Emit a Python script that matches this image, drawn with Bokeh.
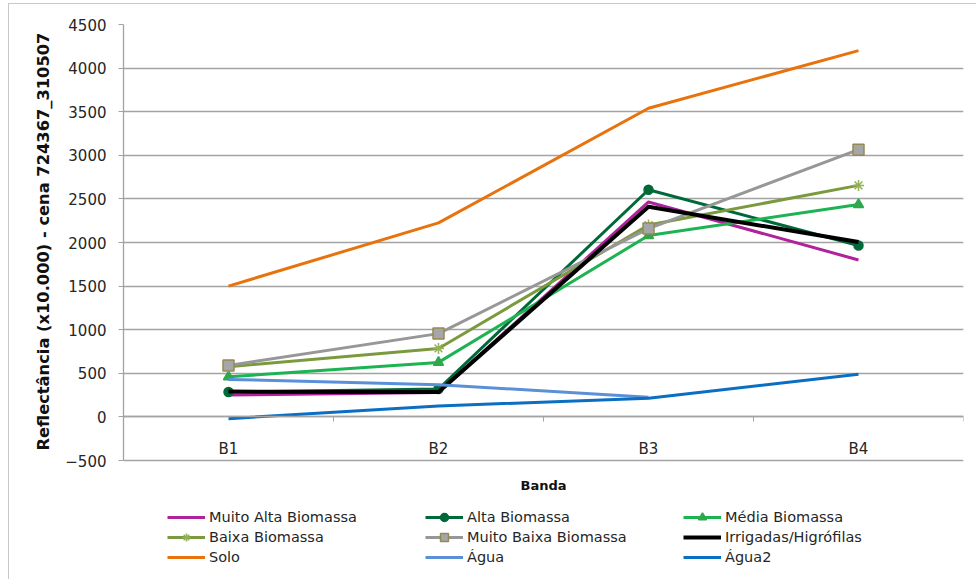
from bokeh.plotting import figure
from bokeh.models import (Range1d, LinearAxis, FixedTicker, Legend, LegendItem,
                          Label, Title)
from bokeh.embed import file_html
from bokeh.resources import INLINE

# Reflectance per band (x10.000)
bands = ["B1", "B2", "B3", "B4"]
muito_alta = [250, 280, 2465, 1800]
alta = [285, 320, 2605, 1965]
media = [460, 625, 2080, 2435]
baixa = [575, 785, 2200, 2655]
muito_baixa = [590, 955, 2160, 3065]
irrigadas = [290, 285, 2410, 2005]
solo = [1500, 2225, 3540, 4200]
agua = [430, 370, 225, float("nan")]
agua2 = [-20, 125, 215, 490]
y_ticks = [-500, 0, 500, 1000, 1500, 2000, 2500, 3000, 3500, 4000, 4500]

FONT = "DejaVu Sans"
GRID = "#a3a3a3"
TEXT = "#262626"
PX_PER_UNIT = 436 / 5000

xs = [i + 1 for i in range(len(bands))]

# the plot area runs down to the canvas bottom so the legend can sit inside it;
# the value axis and grid are bounded to -500..4500
y_lo = -500 - 120 / PX_PER_UNIT
p = figure(width=968, height=576, output_backend="svg", toolbar_location=None,
           x_range=Range1d(0.5, 4.5), y_range=Range1d(y_lo, 4500),
           x_axis_location=None, y_axis_location=None,
           min_border_left=114, min_border_right=14,
           min_border_top=20, min_border_bottom=0,
           margin=(3, 0, 0, 8),
           styles={"border-left": "1px solid #c8c8c8",
                   "border-top": "1px solid #c8c8c8"})
p.outline_line_color = None
p.background_fill_color = "white"
p.border_fill_color = "white"
p.xgrid.grid_line_color = None
p.ygrid.ticker = FixedTicker(ticks=y_ticks)
p.ygrid.grid_line_color = GRID
p.ygrid.grid_line_width = 1.3

# value axis
yaxis = LinearAxis(ticker=FixedTicker(ticks=y_ticks), bounds=(-500, 4500))
yaxis.axis_line_color = GRID
yaxis.axis_line_width = 1.3
yaxis.major_tick_line_color = GRID
yaxis.major_tick_out = 5
yaxis.major_tick_in = 0
yaxis.minor_tick_line_color = None
yaxis.major_label_standoff = 12
yaxis.major_label_text_font = FONT
yaxis.major_label_text_font_size = "15px"
yaxis.major_label_text_color = TEXT
p.add_layout(yaxis, "left")

# value axis title, starting just above the -500 line
ytitle = Title(text="Reflectância (x10.000) - cena 724367_310507", align="left",
               offset=130, standoff=20, text_font=FONT, text_font_size="16.3px",
               text_font_style="bold", text_color="#111111")
p.add_layout(ytitle, "left")

# band axis crossing at zero, ticks between categories, labels further down
xaxis = LinearAxis(ticker=FixedTicker(ticks=xs, minor_ticks=[0.5, 1.5, 2.5, 3.5, 4.5]),
                   fixed_location=0,
                   major_label_overrides={x: b for x, b in zip(xs, bands)})
xaxis.axis_line_color = GRID
xaxis.axis_line_width = 1.3
xaxis.major_tick_line_color = None
xaxis.major_tick_out = 0
xaxis.major_tick_in = 0
xaxis.minor_tick_line_color = GRID
xaxis.minor_tick_out = 5
xaxis.minor_tick_in = 0
xaxis.major_label_standoff = 18
xaxis.major_label_text_font = FONT
xaxis.major_label_text_font_size = "15px"
xaxis.major_label_text_color = TEXT
p.add_layout(xaxis, "below")

# band axis title, centred under the plot area
p.add_layout(Label(x=2.5, y=-500 - 25 / PX_PER_UNIT, text="Banda",
                   text_align="center", text_baseline="middle",
                   text_font=FONT, text_font_size="13px", text_font_style="bold",
                   text_color="#111111"))

# (label, values, line colour, line width, marker, size, fill, outline)
series = [
    ("Muito Alta Biomassa", muito_alta, "#b0229c", 3, None, 0, None, None),
    ("Alta Biomassa", alta, "#00693a", 3, "circle", 9, "#00693a", "#00693a"),
    ("Média Biomassa", media, "#1db353", 3, "triangle", 10, "#2ea84b", "#2ea84b"),
    ("Baixa Biomassa", baixa, "#7b9a3e", 3, "asterisk", 11, None, "#93b055"),
    ("Muito Baixa Biomassa", muito_baixa, "#979797", 3, "square", 11, "#a6a6a6", "#948a54"),
    ("Irrigadas/Higrófilas", irrigadas, "#000000", 4, None, 0, None, None),
    ("Solo", solo, "#e8720c", 3, None, 0, None, None),
    ("Água", agua, "#5a90d8", 3, None, 0, None, None),
    ("Água2", agua2, "#0a6fc2", 3, None, 0, None, None),
]

items = []
for name, vals, color, lw, marker, size, fill, outline in series:
    rs = [p.line(xs, vals, line_color=color, line_width=lw, line_join="round")]
    if marker is not None:
        rs.append(p.scatter(xs, vals, marker=marker, size=size,
                            fill_color=fill, line_color=outline, line_width=1.5))
    items.append(LegendItem(label=name, renderers=rs))

# three legend columns, filled row by row
for c in range(3):
    leg = Legend(items=[items[c], items[c + 3], items[c + 6]],
                 location=(44 + 258 * c, 13), orientation="vertical",
                 glyph_width=38, glyph_height=20, label_height=20,
                 label_standoff=4, spacing=0, padding=0, margin=0,
                 border_line_color=None, background_fill_alpha=0,
                 label_text_font=FONT, label_text_font_size="14.5px",
                 label_text_color=TEXT)
    p.add_layout(leg, "center")

open("out.html", "w").write(file_html(p, INLINE))
